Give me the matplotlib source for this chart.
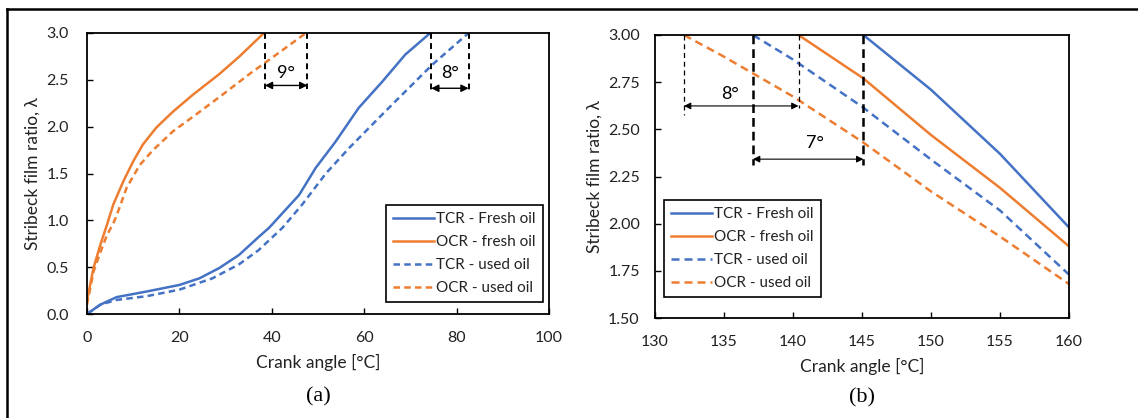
import matplotlib
matplotlib.use("Agg")
import matplotlib.pyplot as plt
from matplotlib.lines import Line2D

plt.rcParams['font.family'] = ['Lato', 'DejaVu Sans']

BLUE = '#4472C4'
ORANGE = '#ED7D31'

# ---------------- Panel (a) data ----------------
tcr_fresh_a_x = [0, 2.9, 6.4, 12.9, 20, 24.3, 28.6, 32.9, 37.1, 39.4, 45.9, 49.5, 53.8, 58.8, 63.9, 68.9, 74.3]
tcr_fresh_a_y = [0, 0.10, 0.18, 0.24, 0.31, 0.38, 0.49, 0.63, 0.82, 0.92, 1.27, 1.56, 1.84, 2.20, 2.48, 2.77, 3.0]

ocr_fresh_a_x = [0, 1.4, 2.9, 4.3, 5.7, 7.9, 10, 12.1, 15, 18.6, 22.9, 28.6, 33, 38.3]
ocr_fresh_a_y = [0.14, 0.49, 0.74, 0.95, 1.17, 1.42, 1.63, 1.81, 1.99, 2.16, 2.34, 2.56, 2.75, 3.0]

tcr_used_a_x = [0, 2.9, 6.4, 12.9, 20, 27.1, 32.9, 37.1, 42.3, 46.6, 51.7, 56.7, 63.9, 69.6, 74.7, 82.6]
tcr_used_a_y = [0, 0.10, 0.15, 0.19, 0.26, 0.38, 0.53, 0.68, 0.92, 1.17, 1.50, 1.77, 2.13, 2.41, 2.66, 3.0]

ocr_used_a_x = [0, 1.4, 2.9, 4.3, 5.7, 6.4, 8.6, 11.4, 14.3, 18.6, 23.6, 29.3, 35.1, 41, 47.4]
ocr_used_a_y = [0.10, 0.45, 0.66, 0.84, 0.97, 1.05, 1.35, 1.59, 1.75, 1.95, 2.13, 2.34, 2.56, 2.77, 3.0]

# annotation angles (a)
ann_a_ocr = [38.5, 47.7]
ann_a_tcr = [74.5, 82.6]
ann_a_labels = ['9°', '8°']

# ---------------- Panel (b) data ----------------
tcr_fresh_b_x = [145.1, 150, 155, 160]
tcr_fresh_b_y = [3.0, 2.71, 2.37, 1.98]

ocr_fresh_b_x = [140.4, 145.1, 150, 155, 160]
ocr_fresh_b_y = [3.0, 2.77, 2.47, 2.19, 1.88]

tcr_used_b_x = [137.1, 140, 145, 150, 155, 160]
tcr_used_b_y = [3.0, 2.87, 2.62, 2.34, 2.07, 1.73]

ocr_used_b_x = [132.1, 135, 140, 145, 150, 155, 160]
ocr_used_b_y = [3.0, 2.885, 2.674, 2.435, 2.171, 1.932, 1.68]

ann_b_ocr = [132.1, 140.4]
ann_b_tcr = [137.1, 145.1]
ann_b_labels = ['8°', '7°']

labels = ['TCR - Fresh oil', 'OCR - fresh oil', 'TCR - used oil', 'OCR - used oil']

W, H = 1138, 418
fig = plt.figure(figsize=(W / 100, H / 100), dpi=100)

def fx(px):
    return px / W

def fy(py):
    return 1 - py / H

def box(l, t, r, b):
    return [fx(l), fy(b), fx(r) - fx(l), fy(t) - fy(b)]

axa = fig.add_axes(box(87, 33, 549, 314))
axb = fig.add_axes(box(655, 35, 1069, 318))

LW = 1.8

def style(ax):
    for s in ax.spines.values():
        s.set_linewidth(1.3)
        s.set_color('black')
    ax.tick_params(direction='in', length=4, width=1.0, labelsize=11.5,
                   top=False, right=False, colors='black')
    ax.tick_params(labelcolor='#222222')
    ax.set_xlabel('Crank angle [°C]', fontsize=12.5, color='#222222', labelpad=7)
    ax.set_ylabel('Stribeck film ratio, λ', fontsize=12.5, color='#222222')

# panel a
da = (2.6, 1.7)
axa.plot(tcr_fresh_a_x, tcr_fresh_a_y, color=BLUE, lw=LW, label=labels[0])
axa.plot(ocr_fresh_a_x, ocr_fresh_a_y, color=ORANGE, lw=LW, label=labels[1])
axa.plot(tcr_used_a_x, tcr_used_a_y, color=BLUE, lw=LW, dashes=da, label=labels[2])
axa.plot(ocr_used_a_x, ocr_used_a_y, color=ORANGE, lw=LW, dashes=da, label=labels[3])
axa.set_xlim(0, 100)
axa.set_ylim(0, 3.0)
axa.set_xticks([0, 20, 40, 60, 80, 100])
ya = [0, 0.5, 1.0, 1.5, 2.0, 2.5, 3.0]
axa.set_yticks(ya)
axa.set_yticklabels([f'{v:.1f}' for v in ya])
style(axa)
axa.tick_params(axis='y', pad=13)
axa.tick_params(axis='x', pad=12)

for (x0, x1), lab, ybot, yarr in zip([ann_a_ocr, ann_a_tcr], ann_a_labels, [2.40, 2.38], [2.44, 2.41]):
    for xv in (x0, x1):
        axa.plot([xv, xv], [3.0, ybot], color='black', lw=1.4, dashes=(3, 2.2))
    axa.annotate('', xy=(x0, yarr), xytext=(x1, yarr),
                 arrowprops=dict(arrowstyle='<|-|>', color='black', lw=1.0,
                                 mutation_scale=11, shrinkA=0, shrinkB=0))
    axa.text((x0 + x1) / 2, 2.57, lab, ha='center', va='center', fontsize=13)

# panel b
db = (3.2, 2.0)
axb.plot(tcr_fresh_b_x, tcr_fresh_b_y, color=BLUE, lw=LW, label=labels[0])
axb.plot(ocr_fresh_b_x, ocr_fresh_b_y, color=ORANGE, lw=LW, label=labels[1])
axb.plot(tcr_used_b_x, tcr_used_b_y, color=BLUE, lw=LW, dashes=db, label=labels[2])
axb.plot(ocr_used_b_x, ocr_used_b_y, color=ORANGE, lw=LW, dashes=db, label=labels[3])
axb.set_xlim(130, 160)
axb.set_ylim(1.5, 3.0)
axb.set_xticks([130, 135, 140, 145, 150, 155, 160])
yb = [1.5, 1.75, 2.0, 2.25, 2.5, 2.75, 3.0]
axb.set_yticks(yb)
axb.set_yticklabels([f'{v:.2f}' for v in yb])
style(axb)
axb.tick_params(axis='y', pad=11)
axb.tick_params(axis='x', pad=12)

# 8° (thin) annotation
x0, x1 = ann_b_ocr
axb.plot([x0, x0], [3.0, 2.576], color='black', lw=0.9, dashes=(4, 3))
axb.plot([x1, x1], [3.0, 2.612], color='black', lw=0.9, dashes=(4, 3))
axb.annotate('', xy=(x0, 2.624), xytext=(x1, 2.624),
             arrowprops=dict(arrowstyle='<|-|>', color='black', lw=0.8,
                             mutation_scale=10, shrinkA=0, shrinkB=0))
axb.text(135.45, 2.686, ann_b_labels[0], ha='center', va='center', fontsize=13)
# 7° (thick) annotation
x0, x1 = ann_b_tcr
axb.plot([x0, x0], [3.0, 2.312], color='black', lw=1.8, dashes=(3.5, 2))
axb.plot([x1, x1], [3.0, 2.312], color='black', lw=1.8, dashes=(3.5, 2))
axb.annotate('', xy=(x0, 2.342), xytext=(x1, 2.342),
             arrowprops=dict(arrowstyle='<|-|>', color='black', lw=0.8,
                             mutation_scale=10, shrinkA=0, shrinkB=0))
axb.text(141.6, 2.427, ann_b_labels[1], ha='center', va='center', fontsize=13)

# legends
def legend(ax, l, t):
    lg = ax.legend(loc='upper left', bbox_to_anchor=(fx(l), fy(t)),
                   bbox_transform=fig.transFigure, frameon=True, fancybox=False,
                   edgecolor='black', fontsize=11, handlelength=2.7,
                   handletextpad=0.15, labelspacing=0.6, borderpad=0.45,
                   borderaxespad=0, framealpha=1)
    lg.get_frame().set_linewidth(1.2)
    for t_ in lg.get_texts():
        t_.set_color('#222222')
    return lg

legend(axa, 386, 205)
legend(axb, 664, 200)

# captions
fig.text(fx(318), fy(397), '(a)', ha='center', va='center', fontsize=16,
         family='Liberation Serif')
fig.text(fx(862), fy(398), '(b)', ha='center', va='center', fontsize=16,
         family='Liberation Serif')

# outer frame (top and left edges)
fig.add_artist(Line2D([fx(7), 1.0], [fy(9), fy(9)], color='black', lw=1.8,
                      transform=fig.transFigure))
fig.add_artist(Line2D([fx(7), fx(7)], [fy(9), 0.0], color='black', lw=1.8,
                      transform=fig.transFigure))

fig.savefig('out.png', dpi=100)
